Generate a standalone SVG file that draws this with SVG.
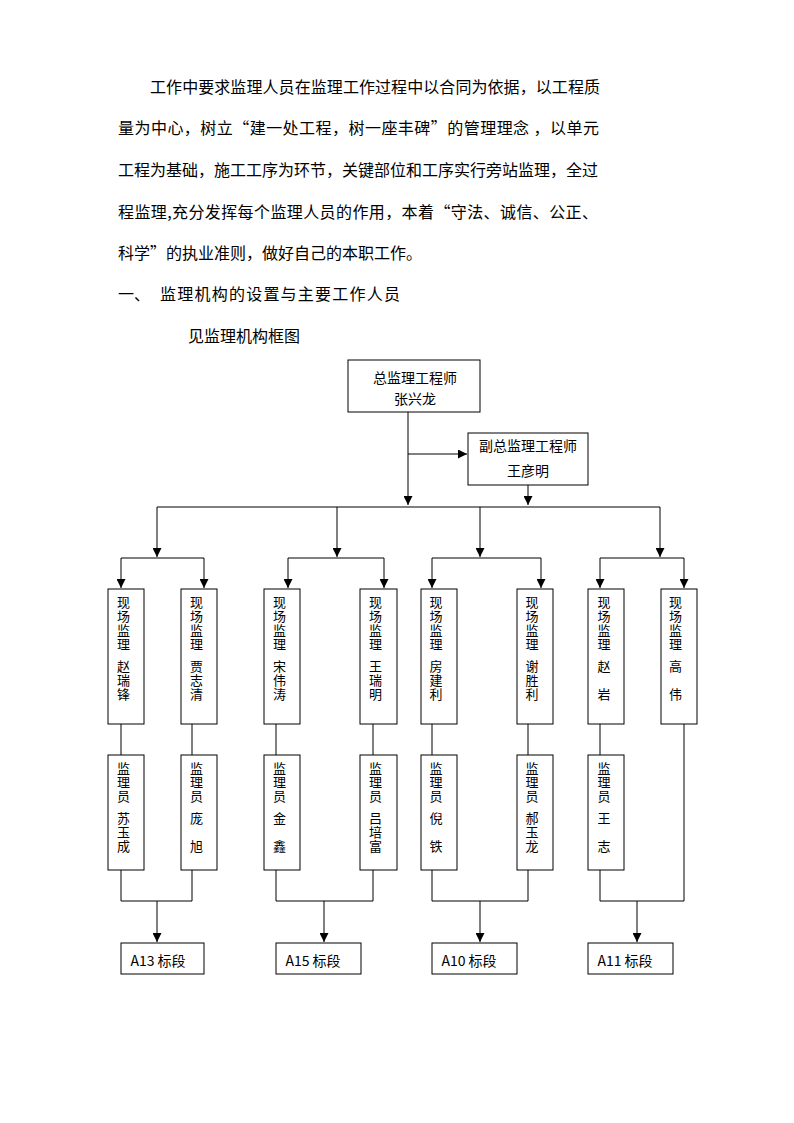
<svg xmlns="http://www.w3.org/2000/svg" width="794" height="1123" viewBox="0 0 794 1123">
<style>
text{font-family:"Noto Sans CJK SC","Noto Sans",sans-serif;fill:#000}
.p{font-size:16px}
.b{font-size:14px;text-anchor:middle}
.v{font-size:13px;text-anchor:middle}
.box{fill:#fff;stroke:#000;stroke-width:1}
.ln{fill:none;stroke:#000;stroke-width:1}
</style>
<defs>
<marker id="ah" markerUnits="userSpaceOnUse" markerWidth="9" markerHeight="9" viewBox="0 0 10 10" refX="10" refY="5" orient="auto">
<path d="M0,0 L10,5 L0,10 z" fill="#000"/>
</marker>
</defs>
<rect width="794" height="1123" fill="#fff"/>
<g id="paragraph">
<text class="p" x="150" y="93" textLength="450" lengthAdjust="spacing">工作中要求监理人员在监理工作过程中以合同为依据，以工程质</text>
<text class="p" x="118" y="134" textLength="481" lengthAdjust="spacing">量为中心，树立“建一处工程，树一座丰碑”的管理理念 ，以单元</text>
<text class="p" x="118" y="176" textLength="480" lengthAdjust="spacing">工程为基础，施工工序为环节，关键部位和工序实行旁站监理，全过</text>
<text class="p" x="118" y="218" textLength="480" lengthAdjust="spacing">程监理,充分发挥每个监理人员的作用，本着“守法、诚信、公正、</text>
<text class="p" x="118" y="259">科学”的执业准则，做好自己的本职工作。</text>
<text class="p" x="118" y="300">一、</text>
<text class="p" x="160" y="300" textLength="240" lengthAdjust="spacing">监理机构的设置与主要工作人员</text>
<text class="p" x="188" y="342">见监理机构框图</text>
</g>
<g id="connectors">
<path class="ln" d="M408,412 V505" marker-end="url(#ah)"/>
<path class="ln" d="M408,454 H467" marker-end="url(#ah)"/>
<path class="ln" d="M528,485 V505" marker-end="url(#ah)"/>
<path class="ln" d="M157,507 H660"/>
<path class="ln" d="M157,507 V557" marker-end="url(#ah)"/>
<path class="ln" d="M337,507 V557" marker-end="url(#ah)"/>
<path class="ln" d="M480,507 V557" marker-end="url(#ah)"/>
<path class="ln" d="M660,507 V557" marker-end="url(#ah)"/>
<path class="ln" d="M121,558 H204 M288,558 H384 M432,558 H541 M600,558 H684"/>
<path class="ln" d="M121,558 V588" marker-end="url(#ah)"/>
<path class="ln" d="M204,558 V588" marker-end="url(#ah)"/>
<path class="ln" d="M288,558 V588" marker-end="url(#ah)"/>
<path class="ln" d="M384,558 V588" marker-end="url(#ah)"/>
<path class="ln" d="M432,558 V588" marker-end="url(#ah)"/>
<path class="ln" d="M541,558 V588" marker-end="url(#ah)"/>
<path class="ln" d="M600,558 V588" marker-end="url(#ah)"/>
<path class="ln" d="M684,558 V588" marker-end="url(#ah)"/>
<path class="ln" d="M121,724 V755 M192,724 V755 M276,724 V755 M373,724 V755 M432,724 V755 M528,724 V755 M600,724 V755 M684,724 V901"/>
<path class="ln" d="M121,870 V901 H192 V870 M276,870 V901 H373 V870 M432,870 V901 H528 V870 M600,870 V901 H684"/>
<path class="ln" d="M157,901 V942" marker-end="url(#ah)"/>
<path class="ln" d="M324,901 V942" marker-end="url(#ah)"/>
<path class="ln" d="M480,901 V942" marker-end="url(#ah)"/>
<path class="ln" d="M637,901 V942" marker-end="url(#ah)"/>
</g>
<g id="chief">
<rect class="box" x="348" y="360" width="132" height="52"/>
<text class="b" x="415" y="383">总监理工程师</text>
<text class="b" x="415" y="404">张兴龙</text>
</g>
<g id="deputy">
<rect class="box" x="468" y="433" width="120" height="52"/>
<text class="b" x="528" y="451">副总监理工程师</text>
<text class="b" x="528" y="476">王彦明</text>
</g>
<g id="site1"><rect class="box" x="108" y="589" width="36" height="135"/>
<text class="v"><tspan x="123.5" y="607">现</tspan><tspan x="123.5" y="621">场</tspan><tspan x="123.5" y="635">监</tspan><tspan x="123.5" y="649">理</tspan><tspan x="123.5" y="671">赵</tspan><tspan x="123.5" y="685">瑞</tspan><tspan x="123.5" y="699">锋</tspan></text></g>
<g id="site2"><rect class="box" x="181" y="589" width="36" height="135"/>
<text class="v"><tspan x="196.5" y="607">现</tspan><tspan x="196.5" y="621">场</tspan><tspan x="196.5" y="635">监</tspan><tspan x="196.5" y="649">理</tspan><tspan x="196.5" y="671">贾</tspan><tspan x="196.5" y="685">志</tspan><tspan x="196.5" y="699">清</tspan></text></g>
<g id="site3"><rect class="box" x="264" y="589" width="36" height="135"/>
<text class="v"><tspan x="279.5" y="607">现</tspan><tspan x="279.5" y="621">场</tspan><tspan x="279.5" y="635">监</tspan><tspan x="279.5" y="649">理</tspan><tspan x="279.5" y="671">宋</tspan><tspan x="279.5" y="685">伟</tspan><tspan x="279.5" y="699">涛</tspan></text></g>
<g id="site4"><rect class="box" x="360" y="589" width="37" height="135"/>
<text class="v"><tspan x="375.5" y="607">现</tspan><tspan x="375.5" y="621">场</tspan><tspan x="375.5" y="635">监</tspan><tspan x="375.5" y="649">理</tspan><tspan x="375.5" y="671">王</tspan><tspan x="375.5" y="685">瑞</tspan><tspan x="375.5" y="699">明</tspan></text></g>
<g id="site5"><rect class="box" x="421" y="589" width="36" height="135"/>
<text class="v"><tspan x="436" y="607">现</tspan><tspan x="436" y="621">场</tspan><tspan x="436" y="635">监</tspan><tspan x="436" y="649">理</tspan><tspan x="436" y="671">房</tspan><tspan x="436" y="685">建</tspan><tspan x="436" y="699">利</tspan></text></g>
<g id="site6"><rect class="box" x="517" y="589" width="36" height="135"/>
<text class="v"><tspan x="532" y="607">现</tspan><tspan x="532" y="621">场</tspan><tspan x="532" y="635">监</tspan><tspan x="532" y="649">理</tspan><tspan x="532" y="671">谢</tspan><tspan x="532" y="685">胜</tspan><tspan x="532" y="699">利</tspan></text></g>
<g id="site7"><rect class="box" x="588" y="589" width="36" height="135"/>
<text class="v"><tspan x="604" y="607">现</tspan><tspan x="604" y="621">场</tspan><tspan x="604" y="635">监</tspan><tspan x="604" y="649">理</tspan><tspan x="604" y="671">赵</tspan><tspan x="604" y="699">岩</tspan></text></g>
<g id="site8"><rect class="box" x="661" y="589" width="36" height="135"/>
<text class="v"><tspan x="675.5" y="607">现</tspan><tspan x="675.5" y="621">场</tspan><tspan x="675.5" y="635">监</tspan><tspan x="675.5" y="649">理</tspan><tspan x="675.5" y="671">高</tspan><tspan x="675.5" y="699">伟</tspan></text></g>
<g id="insp1"><rect class="box" x="108" y="755" width="36" height="115"/>
<text class="v"><tspan x="123.5" y="773">监</tspan><tspan x="123.5" y="787">理</tspan><tspan x="123.5" y="801">员</tspan><tspan x="123.5" y="823">苏</tspan><tspan x="123.5" y="837">玉</tspan><tspan x="123.5" y="851">成</tspan></text></g>
<g id="insp2"><rect class="box" x="181" y="755" width="36" height="115"/>
<text class="v"><tspan x="196.5" y="773">监</tspan><tspan x="196.5" y="787">理</tspan><tspan x="196.5" y="801">员</tspan><tspan x="196.5" y="823">庞</tspan><tspan x="196.5" y="851">旭</tspan></text></g>
<g id="insp3"><rect class="box" x="264" y="755" width="36" height="115"/>
<text class="v"><tspan x="279.5" y="773">监</tspan><tspan x="279.5" y="787">理</tspan><tspan x="279.5" y="801">员</tspan><tspan x="279.5" y="823">金</tspan><tspan x="279.5" y="851">鑫</tspan></text></g>
<g id="insp4"><rect class="box" x="360" y="755" width="37" height="115"/>
<text class="v"><tspan x="375.5" y="773">监</tspan><tspan x="375.5" y="787">理</tspan><tspan x="375.5" y="801">员</tspan><tspan x="375.5" y="823">吕</tspan><tspan x="375.5" y="837">培</tspan><tspan x="375.5" y="851">富</tspan></text></g>
<g id="insp5"><rect class="box" x="421" y="755" width="36" height="115"/>
<text class="v"><tspan x="436" y="773">监</tspan><tspan x="436" y="787">理</tspan><tspan x="436" y="801">员</tspan><tspan x="436" y="823">倪</tspan><tspan x="436" y="851">铁</tspan></text></g>
<g id="insp6"><rect class="box" x="517" y="755" width="36" height="115"/>
<text class="v"><tspan x="532" y="773">监</tspan><tspan x="532" y="787">理</tspan><tspan x="532" y="801">员</tspan><tspan x="532" y="823">郝</tspan><tspan x="532" y="837">玉</tspan><tspan x="532" y="851">龙</tspan></text></g>
<g id="insp7"><rect class="box" x="588" y="755" width="36" height="115"/>
<text class="v"><tspan x="604" y="773">监</tspan><tspan x="604" y="787">理</tspan><tspan x="604" y="801">员</tspan><tspan x="604" y="823">王</tspan><tspan x="604" y="851">志</tspan></text></g>
<g id="secA13"><rect class="box" x="121" y="943" width="83" height="31"/><text class="b" x="158" y="966">A13 标段</text></g>
<g id="secA15"><rect class="box" x="276" y="943" width="85" height="31"/><text class="b" x="313" y="966">A15 标段</text></g>
<g id="secA10"><rect class="box" x="432" y="943" width="85" height="31"/><text class="b" x="469" y="966">A10 标段</text></g>
<g id="secA11"><rect class="box" x="588" y="943" width="85" height="31"/><text class="b" x="625" y="966">A11 标段</text></g>
</svg>
